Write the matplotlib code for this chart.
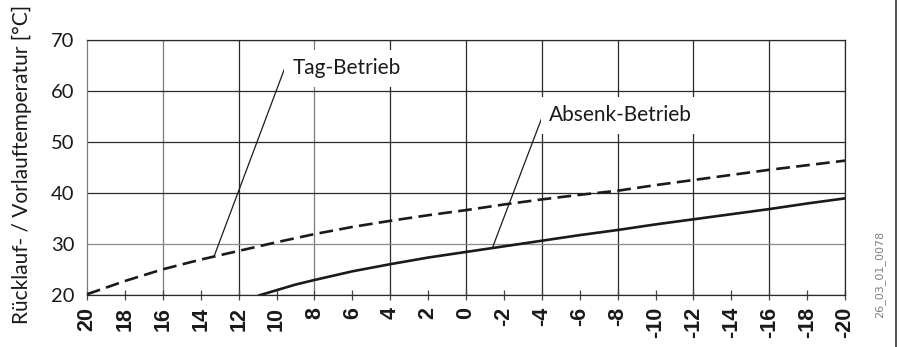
import numpy as np
import matplotlib.pyplot as plt
from matplotlib.lines import Line2D

# Außentemperatur [°C] (x-Achse, von +20 nach -20)
aussen = [20, 18, 16, 14, 12, 10, 8, 6, 4, 2, 0, -2, -4, -6, -8, -10, -12, -14, -16, -18, -20]

# Tag-Betrieb (gestrichelt)
tag = [20.2, 22.8, 25.1, 27.0, 28.7, 30.4, 32.0, 33.4, 34.6, 35.7, 36.7, 37.8, 38.8,
       39.7, 40.5, 41.6, 42.6, 43.6, 44.6, 45.5, 46.4]

# Absenk-Betrieb (durchgezogen), beginnt bei ca. 10.9 °C
absenk_x = [10.9, 10, 9, 8, 6, 4, 2, 0, -2, -4, -6, -8, -10, -12, -14, -16, -18, -20]
absenk = [20.0, 21.0, 22.1, 23.0, 24.7, 26.1, 27.4, 28.5, 29.6, 30.7, 31.8, 32.8, 33.9,
          34.9, 35.9, 36.9, 38.0, 39.0]

y_ticks = [20, 30, 40, 50, 60, 70]
x_major = [16, 12, 8, 4, 0, -4, -8, -12, -16, -20]
x_minor = [20, 18, 14, 10, 6, 2, -2, -6, -10, -14, -18]

fig = plt.figure(figsize=(8.99, 3.47), dpi=100)
ax = fig.add_axes([0.0968, 0.149, 0.8432, 0.735])

ax.plot(aussen, tag, color='#1a1a1a', lw=1.9, ls=(0, (5.2, 2.4)), zorder=4)
ax.plot(absenk_x, absenk, color='#1a1a1a', lw=1.9, zorder=4)

ax.set_xlim(20, -20)
ax.set_ylim(20, 70)

# Gitter und Achsbeschriftung
xfont = dict(rotation=90, fontsize=15.5, family='Liberation Sans', weight='bold')
ax.set_yticks(y_ticks)
ax.set_yticklabels([str(v) for v in y_ticks], fontsize=14.5, family='Lato')
ax.set_xticks(x_major)
ax.set_xticks(x_minor, minor=True)
ax.set_xticklabels([str(v) for v in x_major], **xfont)
ax.set_xticklabels([str(v) for v in x_minor], minor=True, **xfont)
ax.grid(True, which='major', color='#2a2a2a', lw=0.9)
for v, gl in zip(y_ticks, ax.get_ygridlines()):
    if v == 30:
        gl.set_color('#8a8a8a')
for v, gl in zip(x_major, ax.get_xgridlines()):
    if v in (16, 8):
        gl.set_color('#7a7a7a')

ax.tick_params(axis='y', length=0, pad=9, colors='#1a1a1a')
ax.tick_params(axis='x', which='both', direction='inout', length=7, width=0.9,
               color='#444444', pad=5, labelcolor='#1a1a1a')
for s in ax.spines.values():
    s.set_color('#2a2a2a')
    s.set_linewidth(0.9)
ax.spines['left'].set_color('#7a7a7a')

fig.text(0.0245, 0.527, 'Rücklauf- / Vorlauftemperatur [°C]', rotation=90,
         fontsize=15, family='Lato', color='#1a1a1a', ha='center', va='center')

# Beschriftungen der Kurven
ax.plot([13.3, 9.6], [27.6, 64.2], color='#1a1a1a', lw=0.9, zorder=5)
ax.text(9.15, 64.5, 'Tag-Betrieb', fontsize=15, family='Lato', color='#1a1a1a',
        ha='left', va='center', zorder=6,
        bbox=dict(facecolor='white', edgecolor='none', pad=6))
ax.plot([-1.4, -4.0], [29.4, 54.8], color='#1a1a1a', lw=0.9, zorder=5)
ax.text(-4.4, 55.3, 'Absenk-Betrieb', fontsize=15, family='Lato', color='#1a1a1a',
        ha='left', va='center', zorder=6,
        bbox=dict(facecolor='white', edgecolor='none', pad=6))

fig.text(0.979, 0.21, '26_03_01_0078', rotation=90, fontsize=8, color='#808080',
         family='DejaVu Sans', ha='center', va='center')
fig.add_artist(Line2D([0.997, 0.997], [0, 1], color='#333333', lw=1.2,
                      transform=fig.transFigure))

fig.savefig('out.png', dpi=100)
